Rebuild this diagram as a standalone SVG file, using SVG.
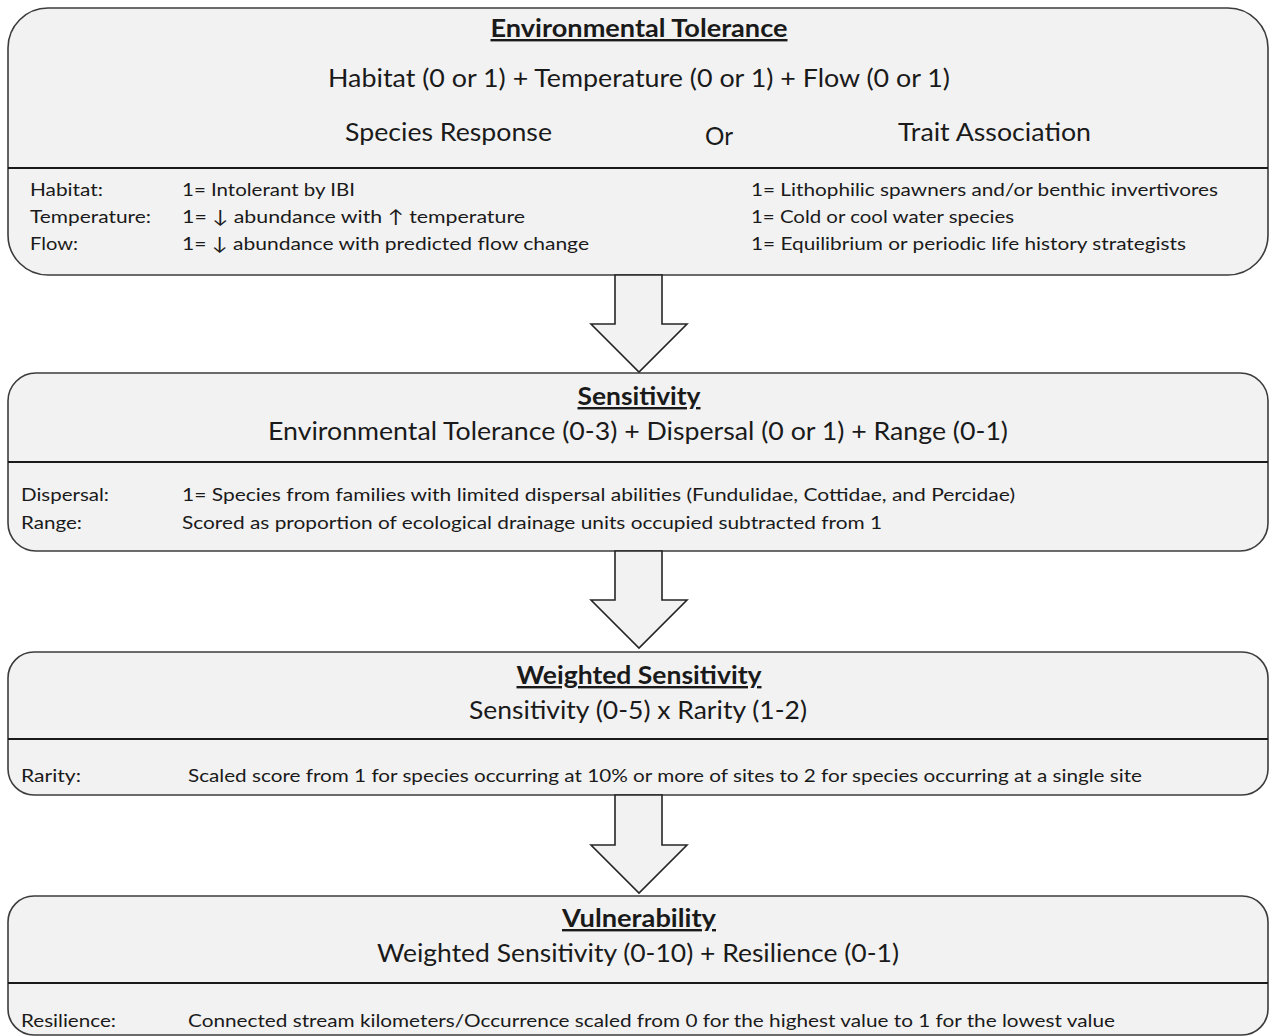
<svg xmlns="http://www.w3.org/2000/svg" width="1274" height="1036" viewBox="0 0 1274 1036">
<style>
.box{fill:#f2f2f2;stroke:#3c3c3c;stroke-width:1.6}
.div{stroke:#1a1a1a;stroke-width:2.2}
.arrow{fill:#f2f2f2;stroke:#262626;stroke-width:1.6;stroke-linejoin:miter}
text{font-family:Lato,"Open Sans","Liberation Sans",sans-serif;fill:#1a1a1a}
.title{font-size:24px;font-weight:bold;text-anchor:middle;text-decoration:underline}
.big{font-size:25px}
.small{font-size:18px}
</style>
<rect width="1274" height="1036" fill="#ffffff"/>
<g id="environmental-tolerance">
<rect class="box" x="8" y="8" width="1260" height="267" rx="40" ry="40"/>
<line class="div" x1="8" y1="168" x2="1268" y2="168"/>
<text class="title" x="639" y="37" textLength="297" lengthAdjust="spacingAndGlyphs">Environmental Tolerance</text>
<text class="big" x="328" y="87" textLength="622" lengthAdjust="spacingAndGlyphs">Habitat (0 or 1) + Temperature (0 or 1) + Flow (0 or 1)</text>
<text class="big" x="345" y="141" textLength="207" lengthAdjust="spacingAndGlyphs">Species Response</text>
<text class="big" x="705" y="145" textLength="28" lengthAdjust="spacingAndGlyphs">Or</text>
<text class="big" x="898" y="141" textLength="193" lengthAdjust="spacingAndGlyphs">Trait Association</text>
<text class="small" x="30" y="196" textLength="73" lengthAdjust="spacingAndGlyphs">Habitat:</text>
<text class="small" x="30" y="223" textLength="121" lengthAdjust="spacingAndGlyphs">Temperature:</text>
<text class="small" x="30" y="250" textLength="48" lengthAdjust="spacingAndGlyphs">Flow:</text>
<text class="small" x="182" y="196" textLength="173" lengthAdjust="spacingAndGlyphs">1= Intolerant by IBI</text>
<text class="small" x="182" y="223" textLength="343" lengthAdjust="spacingAndGlyphs">1= ↓ abundance with ↑ temperature</text>
<text class="small" x="182" y="250" textLength="407" lengthAdjust="spacingAndGlyphs">1= ↓ abundance with predicted flow change</text>
<text class="small" x="751" y="196" textLength="467" lengthAdjust="spacingAndGlyphs">1= Lithophilic spawners and/or benthic invertivores</text>
<text class="small" x="751" y="223" textLength="263" lengthAdjust="spacingAndGlyphs">1= Cold or cool water species</text>
<text class="small" x="751" y="250" textLength="435" lengthAdjust="spacingAndGlyphs">1= Equilibrium or periodic life history strategists</text>
</g>
<g id="sensitivity">
<rect class="box" x="8" y="373" width="1260" height="178" rx="28" ry="28"/>
<line class="div" x1="8" y1="462" x2="1268" y2="462"/>
<text class="title" x="639" y="405" textLength="123" lengthAdjust="spacingAndGlyphs">Sensitivity</text>
<text class="big" x="268" y="440" textLength="740" lengthAdjust="spacingAndGlyphs">Environmental Tolerance (0-3) + Dispersal (0 or 1) + Range (0-1)</text>
<text class="small" x="21" y="501" textLength="88" lengthAdjust="spacingAndGlyphs">Dispersal:</text>
<text class="small" x="21" y="529" textLength="61" lengthAdjust="spacingAndGlyphs">Range:</text>
<text class="small" x="182" y="501" textLength="833" lengthAdjust="spacingAndGlyphs">1= Species from families with limited dispersal abilities (Fundulidae, Cottidae, and Percidae)</text>
<text class="small" x="182" y="529" textLength="700" lengthAdjust="spacingAndGlyphs">Scored as proportion of ecological drainage units occupied subtracted from 1</text>
</g>
<g id="weighted-sensitivity">
<rect class="box" x="8" y="652" width="1260" height="143" rx="26" ry="26"/>
<line class="div" x1="8" y1="739" x2="1268" y2="739"/>
<text class="title" x="639" y="684" textLength="245" lengthAdjust="spacingAndGlyphs">Weighted Sensitivity</text>
<text class="big" x="469" y="719" textLength="338" lengthAdjust="spacingAndGlyphs">Sensitivity (0-5) x Rarity (1-2)</text>
<text class="small" x="21" y="782" textLength="60" lengthAdjust="spacingAndGlyphs">Rarity:</text>
<text class="small" x="188" y="782" textLength="954" lengthAdjust="spacingAndGlyphs">Scaled score from 1 for species occurring at 10% or more of sites to 2 for species occurring at a single site</text>
</g>
<g id="vulnerability">
<rect class="box" x="8" y="896" width="1260" height="139" rx="26" ry="26"/>
<line class="div" x1="8" y1="983" x2="1268" y2="983"/>
<text class="title" x="639" y="927" textLength="154" lengthAdjust="spacingAndGlyphs">Vulnerability</text>
<text class="big" x="377" y="962" textLength="522" lengthAdjust="spacingAndGlyphs">Weighted Sensitivity (0-10) + Resilience (0-1)</text>
<text class="small" x="21" y="1027" textLength="95" lengthAdjust="spacingAndGlyphs">Resilience:</text>
<text class="small" x="188" y="1027" textLength="927" lengthAdjust="spacingAndGlyphs">Connected stream kilometers/Occurrence scaled from 0 for the highest value to 1 for the lowest value</text>
</g>
<g id="connectors">
<polygon class="arrow" points="615,275 662,275 662,324 687,324 639,372 591,324 615,324"/>
<polygon class="arrow" points="615,551 662,551 662,600 687,600 639,648 591,600 615,600"/>
<polygon class="arrow" points="615,795 662,795 662,845 687,845 639,893 591,845 615,845"/>
</g>
</svg>
